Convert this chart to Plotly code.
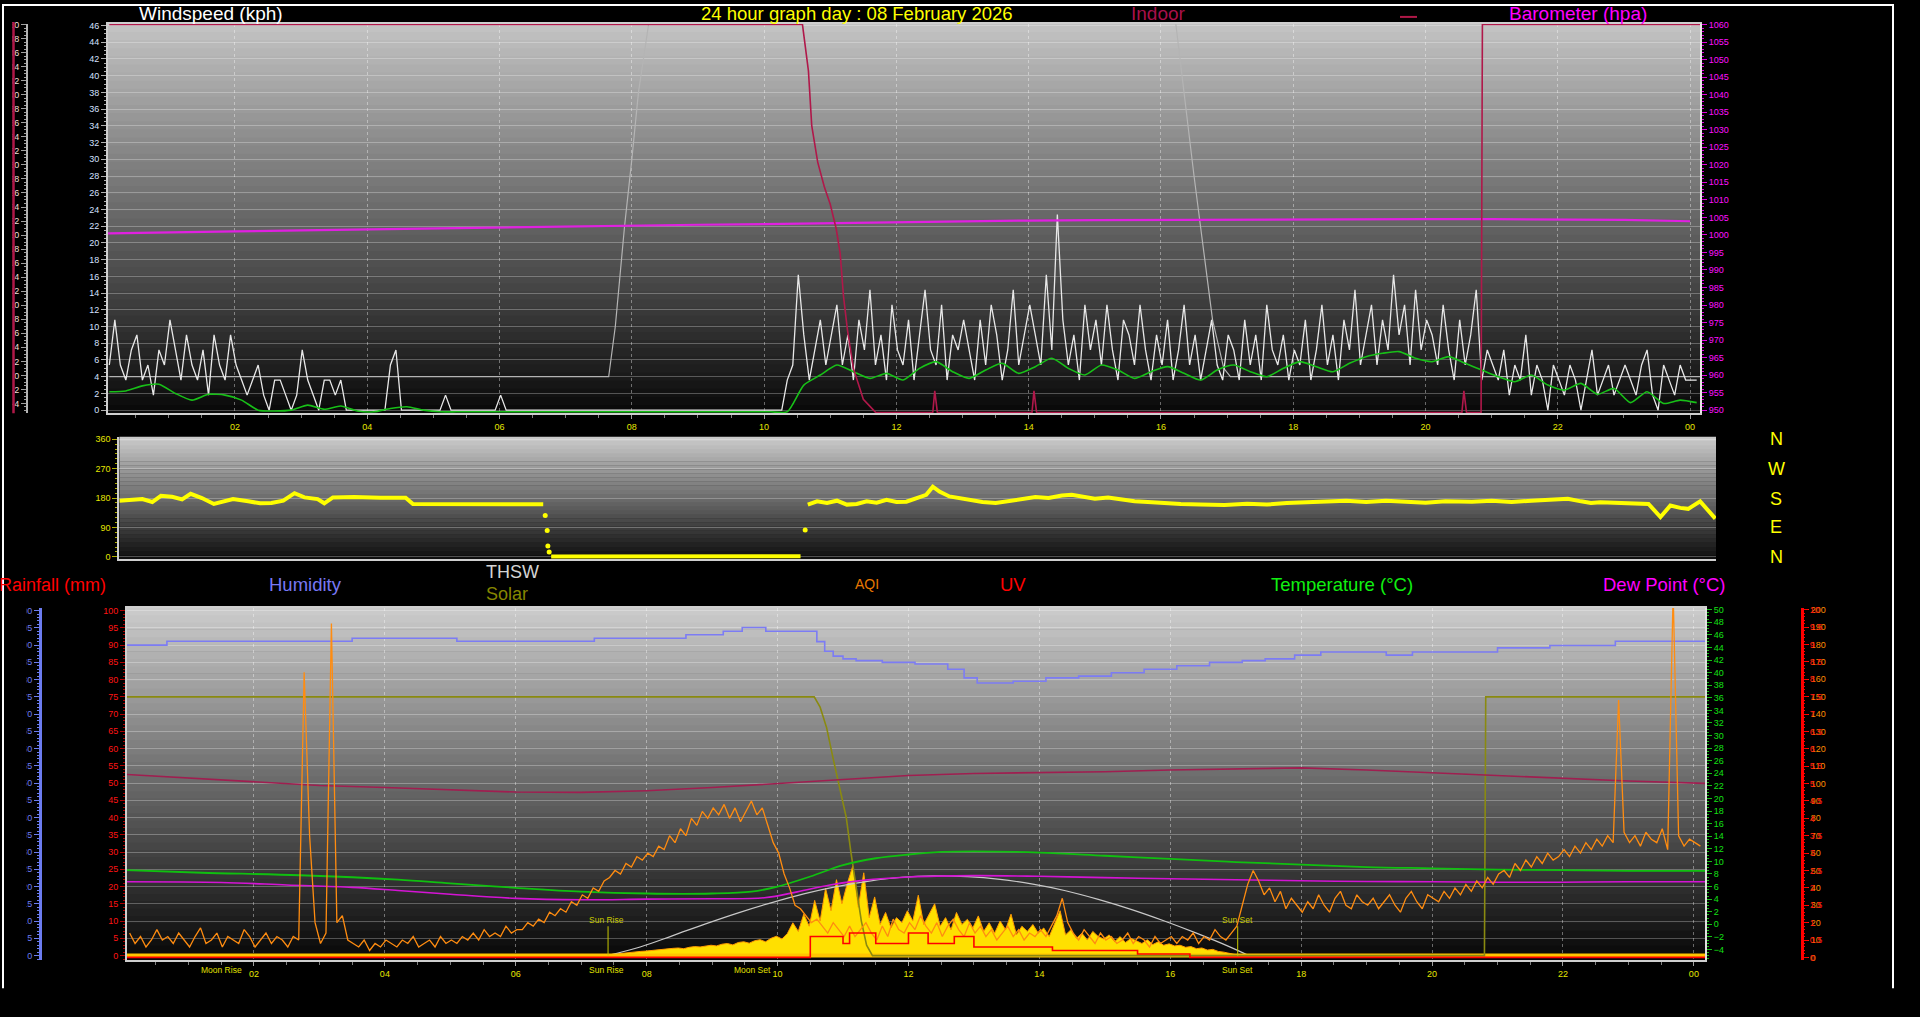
import plotly.graph_objects as go

W, H = 1920, 1017
def fx(px): return px / W
def fy(py): return 1 - py / H

# ---------------- DATA ----------------
hour_ticks = [2, 4, 6, 8, 10, 12, 14, 16, 18, 20, 22, 24]
hour_labels = ["02", "04", "06", "08", "10", "12", "14", "16", "18", "20", "22", "00"]

# --- top panel: wind gust (kph), 5-minute samples from 00:06
gust_t0 = 0.1
step_5min = 1 / 12
gust_kph = [
    5.4, 10.8, 5.4, 3.6, 7.2, 9.0, 3.6, 5.4, 1.8, 7.2, 5.4, 10.8,
    7.2, 3.6, 9.0, 5.4, 3.6, 7.2, 1.8, 9.0, 5.4, 3.6, 9.0, 5.4,
    3.6, 1.8, 3.6, 5.4, 1.8, 0.0, 3.6, 3.6, 1.8, 0.0, 1.8, 7.2,
    3.6, 1.8, 0.0, 3.6, 3.6, 1.8, 3.6, 0.0, 0.0, 0.0, 0.0, 0.0,
    0.0, 0.0, 0.0, 5.4, 7.2, 0.0, 0.0, 0.0, 0.0, 0.0, 0.0, 0.0,
    0.0, 1.8, 0.0, 0.0, 0.0, 0.0, 0.0, 0.0, 0.0, 0.0, 0.0, 1.8,
    0.0, 0.0, 0.0, 0.0, 0.0, 0.0, 0.0, 0.0, 0.0, 0.0, 0.0, 0.0,
    0.0, 0.0, 0.0, 0.0, 0.0, 0.0, 0.0, 0.0, 0.0, 0.0, 0.0, 0.0,
    0.0, 0.0, 0.0, 0.0, 0.0, 0.0, 0.0, 0.0, 0.0, 0.0, 0.0, 0.0,
    0.0, 0.0, 0.0, 0.0, 0.0, 0.0, 0.0, 0.0, 0.0, 0.0, 0.0, 0.0,
    0.0, 0.0, 0.0, 3.6, 5.4, 16.2, 9.0, 3.6, 7.2, 10.8, 5.4, 9.0,
    12.6, 5.4, 9.0, 3.6, 10.8, 7.2, 14.4, 5.4, 9.0, 3.6, 12.6, 7.2,
    5.4, 10.8, 3.6, 9.0, 14.4, 7.2, 5.4, 12.6, 3.6, 9.0, 7.2, 10.8,
    7.2, 3.6, 10.8, 5.4, 12.6, 9.0, 3.6, 7.2, 14.4, 5.4, 9.0, 12.6,
    9.0, 5.4, 16.2, 7.2, 23.4, 10.8, 5.4, 9.0, 3.6, 12.6, 7.2, 10.8,
    5.4, 12.6, 7.2, 3.6, 10.8, 9.0, 5.4, 12.6, 7.2, 3.6, 9.0, 5.4,
    10.8, 3.6, 7.2, 12.6, 5.4, 9.0, 3.6, 7.2, 10.8, 5.4, 3.6, 9.0,
    7.2, 3.6, 10.8, 5.4, 9.0, 3.6, 12.6, 7.2, 5.4, 9.0, 3.6, 7.2,
    5.4, 10.8, 3.6, 7.2, 12.6, 5.4, 9.0, 3.6, 10.8, 7.2, 14.4, 5.4,
    9.0, 12.6, 5.4, 10.8, 7.2, 16.2, 9.0, 12.6, 5.4, 14.4, 7.2, 10.8,
    9.0, 5.4, 12.6, 7.2, 3.6, 10.8, 5.4, 9.0, 14.4, 3.6, 7.2, 5.4,
    3.6, 7.2, 1.8, 5.4, 3.6, 9.0, 1.8, 5.4, 3.6, 0.0, 5.4, 3.6,
    1.8, 5.4, 3.6, 0.0, 3.6, 7.2, 1.8, 3.6, 5.4, 1.8, 3.6, 5.4,
    3.6, 1.8, 5.4, 7.2, 1.8, 0.0, 5.4, 3.6, 1.8, 5.4, 3.6, 3.6,
    3.6,
]

# --- top panel: average wind speed (kph), 15-minute samples from 00:06
avg_t0 = 0.1
step_15min = 0.25
avg_kph = [
    2.2, 2.3, 2.9, 3.1, 2.0, 1.2, 1.9, 1.8, 1.2, 0.0, -0.1, 0.0,
    0.6, 0.1, 0.5, -0.1, -0.2, 0.2, 0.4, 0.0,
    -0.2, -0.2, -0.2, -0.2, -0.2, -0.2, -0.2, -0.2, -0.2, -0.2, -0.2,
    -0.2, -0.2, -0.2, -0.2, -0.2, -0.2, -0.2, -0.2, -0.2, -0.2, -0.2,
    3.0, 4.2, 5.4, 4.6, 3.8, 4.4, 3.6, 5.0, 5.8, 4.6, 3.8, 4.8,
    5.6, 4.4, 5.2, 6.2, 5.0, 4.2, 5.4, 4.8, 3.8, 4.6, 5.2, 4.4,
    3.6, 4.8, 5.4, 4.6, 4.0, 5.0, 5.8, 5.2, 4.6, 5.6, 6.4, 6.8,
    7.0, 6.2, 5.8, 6.4, 5.6, 4.8, 4.0, 3.4, 4.2, 3.0, 2.4, 3.2,
    1.9, 2.6, 0.9, 2.2, 0.8, 1.2, 0.9,
]

# --- top panel: barometer (hPa), hourly
baro_hour = list(range(0, 25))
baro_hpa = [1000.4, 1000.6, 1001.0, 1001.3, 1001.6, 1001.8, 1002.0, 1002.3,
            1002.6, 1002.9, 1003.1, 1003.4, 1003.7, 1003.9, 1004.1, 1004.2,
            1004.3, 1004.4, 1004.5, 1004.5, 1004.5, 1004.5, 1004.4, 1004.3,
            1003.9]

# --- top panel: indoor (crimson, own left axis)
indoor_t = [0.1, 10.58, 10.67, 10.72, 10.81, 10.91, 11.0, 11.09, 11.15, 11.2,
            11.26, 11.35, 11.5, 11.69, 12.55, 12.58, 12.62, 14.05, 14.08, 14.12,
            20.55, 20.58, 20.62, 20.84, 20.86, 24.15]
indoor_v = [50, 50, 43.4, 35.6, 30.4, 26.9, 24.4, 20.9, 17.4, 11.3,
            6.5, 1.0, -3.4, -5.3, -5.3, -2.2, -5.3, -5.3, -2.2, -5.3,
            -5.3, -2.2, -5.3, -5.3, 50, 50]

# --- top panel: THSW (grey, on wind-speed scale, off-scale when high)
thsw_t = [0.1, 7.65, 7.75, 7.89, 8.0, 8.1, 8.26, 8.4, 16.1, 16.22, 16.5, 16.78, 16.95, 17.05, 24.15]
thsw_v = [4.0, 4.0, 10.0, 22.0, 30.0, 38.0, 46.5, 55.0, 55.0, 46.5, 28.0, 10.8, 5.0, 4.0, 4.0]

# --- middle panel: wind direction (degrees)
dir_t = [0.25, 0.45, 0.6, 0.75, 0.88, 1.05, 1.2, 1.33, 1.5, 1.68, 1.85, 1.97,
         2.2, 2.38, 2.55, 2.73, 2.9, 3.05, 3.25, 3.35, 3.48, 3.8, 4.2, 4.58,
         4.69, 5.5, 6.2, 6.66, None,
         6.78, 7.5, 8.5, 9.5, 10.55, None,
         10.66, 10.8, 10.95, 11.1, 11.25, 11.4, 11.55, 11.7, 11.85, 12.0, 12.15,
         12.3, 12.45, 12.55, 12.65, 12.8, 12.95, 13.1, 13.3, 13.5, 13.7, 13.9,
         14.1, 14.3, 14.5, 14.65, 14.8, 15.0, 15.2, 15.4, 15.6, 15.8, 16.0,
         16.3, 16.6, 16.96, 17.3, 17.6, 17.9, 18.2, 18.5, 18.8, 19.1, 19.4,
         19.7, 20.0, 20.3, 20.7, 21.0, 21.3, 21.6, 21.9, 22.15, 22.35, 22.5,
         22.64, 23.0, 23.37, 23.55, 23.7, 23.85, 23.97, 24.15, 24.38]
dir_deg = [172, 175, 177, 168, 187, 184, 176, 193, 180, 162, 170, 177,
           170, 164, 165, 172, 195, 182, 177, 164, 182, 183, 181, 181,
           162, 161, 161, 161, None,
           1, 1, 1, 1, 2, None,
           160, 170, 165, 172, 160, 162, 170, 166, 175, 168, 169,
           178, 190, 215, 200, 185, 180, 175, 168, 165, 172, 178,
           183, 180, 188, 190, 185, 178, 182, 175, 170, 168, 165,
           162, 160, 159, 163, 160, 165, 168, 170, 172, 168, 172,
           169, 166, 170, 169, 172, 168, 172, 175, 178, 170, 165,
           167, 165, 162, 122, 157, 150, 147, 170, 117]
dir_dot_t = [6.69, 6.72, 6.73, 6.75, 10.62]
dir_dot_deg = [127, 81, 33, 15, 82]

# --- bottom panel
humid_t = [0.06, 0.67, 3.5, 5.1, 7.2, 8.6, 9.17, 9.46, 9.82, 10.6, 10.72, 10.85,
           11.0, 11.2, 11.6, 12.1, 12.6, 12.85, 13.05, 13.6, 14.1, 14.6, 15.1,
           15.6, 16.1, 16.6, 17.1, 17.45, 17.9, 18.3, 19.3, 19.7, 21.0, 21.8,
           22.8, 24.17]
humid_pct = [90.0, 91.1, 92.0, 91.1, 92.0, 93.0, 94.0, 95.1, 94.0, 91.0, 88.2, 86.8,
             86.0, 85.5, 85.0, 84.5, 83.0, 80.5, 79.0, 79.5, 80.5, 81.0, 82.0,
             83.0, 84.0, 85.0, 85.5, 86.0, 87.1, 88.0, 87.1, 88.0, 89.2, 89.9,
             91.1, 91.1]

olive_t = [0.06, 10.56, 10.65, 10.75, 10.85, 10.95, 11.05, 11.12, 11.2, 11.28,
           11.36, 11.45, 20.8, 20.82, 24.17]
olive_v = [75, 75, 72, 66, 57, 48, 40, 30, 20, 10, 3, 0, 0, 75, 75]

indoor2_t = [0.06, 1.0, 2.0, 3.0, 4.0, 5.0, 6.0, 7.0, 8.0, 9.0, 10.0, 11.0, 12.0,
             13.0, 14.0, 15.0, 16.0, 17.0, 18.0, 19.0, 20.0, 21.0, 22.0, 23.0, 24.17]
indoor2_v = [52.5, 51.5, 50.3, 49.3, 48.7, 48.0, 47.4, 47.3, 47.8, 48.7, 49.8, 51.0,
             52.2, 52.8, 53.0, 53.3, 53.8, 54.2, 54.4, 53.8, 53.0, 52.0, 51.2, 50.6, 49.9]

temp_t = [0.06, 1.2, 2.7, 4.2, 5.0, 6.0, 7.0, 8.0, 9.0, 9.6, 10.0, 10.5, 11.0,
          11.5, 12.0, 12.5, 13.0, 14.0, 15.0, 16.0, 17.0, 18.0, 19.0, 20.0,
          21.0, 22.0, 23.0, 24.17]
temp_c = [8.6, 8.2, 7.8, 7.1, 6.5, 5.8, 5.2, 4.9, 4.9, 5.2, 6.0, 7.6, 9.4,
          10.5, 11.1, 11.5, 11.6, 11.4, 10.9, 10.4, 9.9, 9.5, 9.1, 8.9,
          8.7, 8.6, 8.5, 8.5]

dew_t = [0.06, 1.5, 2.5, 3.5, 4.2, 5.0, 6.0, 7.0, 8.0, 9.0, 9.8, 10.3, 10.8,
         11.3, 12.0, 13.0, 14.0, 15.0, 16.0, 17.0, 18.0, 19.0, 20.0, 21.0,
         22.0, 23.0, 24.17]
dew_c = [6.76, 6.65, 6.26, 5.88, 5.38, 4.78, 4.12, 3.9, 4.0, 4.07, 4.23, 5.16, 6.26,
         6.98, 7.52, 7.74, 7.63, 7.42, 7.25, 7.09, 6.92, 6.81, 6.76, 6.7,
         6.7, 6.76, 6.76]

aqi_t0 = 0.1
aqi = [
    14, 8, 12, 6, 10, 16, 10, 12, 8, 14, 10, 6,
    12, 17, 8, 10, 14, 6, 12, 10, 8, 16, 12, 6,
    10, 14, 8, 12, 10, 6, 12, 10, 164, 70, 20, 8,
    14, 192, 20, 24, 10, 8, 6, 10, 4, 8, 6, 10,
    8, 6, 10, 8, 12, 6, 8, 10, 6, 12, 8, 10,
    8, 12, 10, 14, 10, 16, 12, 14, 12, 18, 14, 16,
    16, 20, 18, 22, 20, 26, 24, 28, 26, 32, 30, 36,
    34, 40, 38, 44, 46, 50, 48, 54, 52, 58, 56, 60,
    58, 64, 62, 70, 66, 74, 70, 80, 76, 84, 80, 86,
    82, 88, 80, 86, 78, 84, 90, 82, 86, 76, 66, 60,
    48, 40, 30, 28, 24, 20, 22, 18, 14, 20, 16, 12,
    18, 12, 16, 20, 14, 10, 18, 12, 22, 16, 14, 20,
    16, 24, 18, 14, 20, 12, 18, 22, 16, 12, 20, 14,
    18, 12, 16, 10, 14, 18, 12, 16, 10, 14, 12, 16,
    12, 18, 24, 34, 20, 14, 10, 16, 12, 8, 14, 10,
    12, 8, 10, 14, 8, 12, 10, 6, 12, 8, 10, 12,
    8, 12, 10, 14, 8, 12, 10, 16, 12, 10, 14, 18,
    30, 42, 50, 44, 36, 40, 32, 38, 28, 34, 30, 26,
    32, 28, 36, 30, 26, 34, 38, 30, 28, 36, 32, 30,
    34, 28, 32, 36, 30, 26, 34, 38, 32, 28, 36, 34,
    32, 38, 34, 40, 36, 42, 38, 44, 40, 46, 42, 48,
    50, 46, 54, 50, 56, 52, 58, 54, 60, 56, 58, 62,
    58, 64, 60, 66, 62, 68, 64, 70, 66, 148, 72, 66,
    70, 64, 72, 68, 66, 74, 62, 210, 70, 64, 68, 66,
    64,
]

solar_t0 = 7.4
solar = [
    0.2, 0.4, 0.6, 0.7, 0.9, 1.0, 1.2,
    1.3, 1.5, 1.6, 1.8, 1.9, 2.1, 2.2, 2.0, 2.4, 2.6, 2.5, 2.8,
    3.0, 2.8, 3.3, 3.5, 3.1, 3.8, 4.0, 3.6, 4.3, 4.6, 4.0, 5.0,
    5.6, 4.8, 6.4, 9.5, 7.0, 12.0, 8.5, 16.0, 10.0, 19.5, 13.0, 22.0,
    15.0, 21.0, 26.0, 14.0, 24.0, 11.0, 17.0, 9.0, 12.5, 8.0, 11.0, 9.5,
    13.0, 10.0, 17.5, 9.0, 12.0, 15.0, 8.5, 11.0, 7.5, 12.5, 9.0, 10.5,
    8.0, 11.5, 7.0, 9.5, 6.5, 10.0, 7.5, 12.0, 6.0, 8.5, 7.0, 9.0,
    6.5, 8.0, 5.5, 9.5, 13.0, 6.0, 7.5, 5.0, 6.5, 4.5, 7.0, 5.5,
    4.8, 6.0, 4.0, 5.5, 3.8, 5.0, 4.2, 3.5, 4.6, 3.2, 4.0, 3.0,
    3.4, 2.8, 3.0, 2.4, 2.6, 2.0, 2.2, 1.6, 1.8, 1.2, 1.0, 0.6,
    0.3, 0.0,
]

clear_sky_t = [7.4, 7.9, 8.4, 8.9, 9.4, 9.9, 10.4, 10.9, 11.4, 11.9, 12.4, 12.9,
               13.4, 13.9, 14.4, 14.9, 15.4, 15.9, 16.4, 16.9, 17.2]
clear_sky_v = [0, 2.5, 5.8, 9.2, 12.4, 15.3, 17.9, 20.0, 21.6, 22.7, 23.1, 22.9,
               22.1, 20.7, 18.8, 16.3, 13.4, 10.1, 6.5, 2.6, 0]

uv_t = [0.06, 10.5, 11.0, 11.1, 11.5, 12.0, 12.3, 12.7, 13.0, 14.2, 15.5, 16.3, 24.17]
uv_idx = [0.0, 0.6, 0.4, 0.7, 0.4, 0.7, 0.4, 0.6, 0.3, 0.2, 0.1, 0.0, 0.0]

rain_t = [0.06, 24.17]
rain_mm = [0.0, 0.0]

# ---------------- FIGURE ----------------
fig = go.Figure()

def series_t(t0, step, n):
    return [t0 + i * step for i in range(n)]

# top panel traces
fig.add_trace(go.Scatter(x=thsw_t, y=thsw_v, mode="lines", line=dict(color="#b4b4b4", width=1.2),
                         xaxis="x", yaxis="y", name="THSW"))
fig.add_trace(go.Scatter(x=baro_hour, y=baro_hpa, mode="lines", line=dict(color="#e020e0", width=2.2),
                         xaxis="x", yaxis="y2", name="Barometer"))
fig.add_trace(go.Scatter(x=indoor_t, y=indoor_v, mode="lines", line=dict(color="#b0184a", width=1.6),
                         xaxis="x", yaxis="y3", name="Indoor"))
fig.add_trace(go.Scatter(x=series_t(gust_t0, step_5min, len(gust_kph)), y=gust_kph, mode="lines",
                         line=dict(color="#e8e8e8", width=1.3), xaxis="x", yaxis="y", name="Gust"))
fig.add_trace(go.Scatter(x=series_t(avg_t0, step_15min, len(avg_kph)), y=avg_kph, mode="lines",
                         line=dict(color="#18c018", width=1.6, shape="spline", smoothing=0.6),
                         xaxis="x", yaxis="y", name="Wind"))

# middle panel traces
fig.add_trace(go.Scatter(x=dir_t, y=dir_deg, mode="lines", line=dict(color="#ffff00", width=4),
                         connectgaps=False, xaxis="x2", yaxis="y4", name="Direction"))
fig.add_trace(go.Scatter(x=dir_dot_t, y=dir_dot_deg, mode="markers",
                         marker=dict(color="#ffff00", size=5), xaxis="x2", yaxis="y4", name="Direction dots"))

# bottom panel traces
fig.add_trace(go.Scatter(x=series_t(solar_t0, step_5min, len(solar)), y=solar, mode="lines",
                         fill="tozeroy", fillcolor="#ffe000", line=dict(color="#ff9a00", width=1),
                         xaxis="x3", yaxis="y5", name="Solar"))
fig.add_trace(go.Scatter(x=clear_sky_t, y=clear_sky_v, mode="lines",
                         line=dict(color="#c8c8c8", width=1.2, shape="spline"),
                         xaxis="x3", yaxis="y5", name="Solar max"))
fig.add_trace(go.Scatter(x=uv_t, y=uv_idx, mode="lines", line=dict(color="#ff0000", width=1.6, shape="hv"),
                         xaxis="x3", yaxis="y9", name="UV"))
fig.add_trace(go.Scatter(x=rain_t, y=rain_mm, mode="lines", line=dict(color="#ffc400", width=4),
                         xaxis="x3", yaxis="y5", name="Rain"))
fig.add_trace(go.Scatter(x=olive_t, y=olive_v, mode="lines", line=dict(color="#8a8a10", width=1.6),
                         xaxis="x3", yaxis="y5", name="Solar line"))
fig.add_trace(go.Scatter(x=indoor2_t, y=indoor2_v, mode="lines", line=dict(color="#a01e50", width=1.6),
                         xaxis="x3", yaxis="y5", name="Indoor hum"))
fig.add_trace(go.Scatter(x=humid_t, y=humid_pct, mode="lines", line=dict(color="#7c7cf4", width=1.6, shape="hv"),
                         xaxis="x3", yaxis="y6", name="Humidity"))
fig.add_trace(go.Scatter(x=temp_t, y=temp_c, mode="lines", line=dict(color="#10c010", width=1.8, shape="spline"),
                         xaxis="x3", yaxis="y7", name="Temperature"))
fig.add_trace(go.Scatter(x=dew_t, y=dew_c, mode="lines", line=dict(color="#d414d4", width=1.6, shape="spline"),
                         xaxis="x3", yaxis="y7", name="Dew point"))
fig.add_trace(go.Scatter(x=series_t(aqi_t0, step_5min, len(aqi)), y=aqi, mode="lines",
                         line=dict(color="#ff8c10", width=1.3), xaxis="x3", yaxis="y8", name="AQI"))

# ---------------- AXES ----------------
TF = "Liberation Sans"
GRID = "rgba(255,255,255,0.28)"
VGRID = "rgba(255,255,255,0.38)"

def xaxis_cfg(dom, rng, anchor, labels=True):
    return dict(domain=dom, range=rng, anchor=anchor, tickmode="array", tickvals=hour_ticks,
                ticktext=hour_labels, showticklabels=labels,
                tickfont=dict(family=TF, size=9, color="#e6e600"),
                ticks="outside" if labels else "", ticklen=4, tickcolor="#a0a0a0",
                minor=dict(dtick=0.5, ticks="outside" if labels else "", ticklen=3, tickcolor="#808080"),
                showgrid=labels, gridcolor=VGRID, griddash="dot", gridwidth=1,
                showline=True, linecolor="#cfcfcf", linewidth=2, mirror=labels,
                zeroline=False, fixedrange=True)

def yaxis_cfg(dom, rng, anchor, dtick, tick0, color, tickcolor, side="left",
              grid=False, overlay=None, position=None, linecolor="#cfcfcf", linewidth=2,
              minor_dtick=None, showline=True, mirror=False):
    d = dict(range=rng, side=side, dtick=dtick, tick0=tick0,
             tickfont=dict(family=TF, size=9, color=color), ticks="outside", ticklen=5,
             tickcolor=tickcolor, showgrid=grid, gridcolor=GRID, gridwidth=1,
             showline=showline, linecolor=linecolor, linewidth=linewidth, mirror=mirror,
             zeroline=False, fixedrange=True)
    if minor_dtick:
        d["minor"] = dict(dtick=minor_dtick, ticks="outside", ticklen=2, tickcolor=tickcolor)
    if overlay:
        d["overlaying"] = overlay
    else:
        d["domain"] = dom
    if position is not None:
        d["anchor"] = "free"
        d["position"] = position
    else:
        d["anchor"] = anchor
    return d

top_x = [fx(108), fx(1700)]
top_y = [fy(412), fy(20)]
mid_x = [fx(119.4), fx(1716)]
mid_y = [fy(559), fy(436)]
bot_x = [fx(127), fx(1705)]
bot_y = [fy(962.7), fy(608)]

layout = dict(
    width=W, height=H, margin=dict(l=0, r=0, t=0, b=0),
    paper_bgcolor="#000000", plot_bgcolor="#000000", showlegend=False,
    xaxis=xaxis_cfg(top_x, [0.08, 24.15], "y"),
    xaxis2=xaxis_cfg(mid_x, [0.2525, 24.39], "y4", labels=False),
    xaxis3=xaxis_cfg(bot_x, [0.06, 24.17], "y5"),
    yaxis=yaxis_cfg(top_y, [-0.36, 46.2], "x", 2, 0, "#d4e0ff", "#b0b0b0", grid=True,
                    minor_dtick=0.5, mirror=True),
    yaxis2=yaxis_cfg(None, [949.15, 1060.2], "x", 5, 950, "#ff10ff", "#e000e0", side="right",
                     overlay="y", minor_dtick=1, linecolor="#e8e8e8"),
    yaxis3=yaxis_cfg(None, [-5.38, 50.1], None, 2, 0, "#f0dcdc", "#a0a0a0", side="left",
                     overlay="y", position=fx(27), minor_dtick=0.5, linecolor="#b4b4b4"),
    yaxis4=yaxis_cfg(mid_y, [-7, 367], "x2", 90, 0, "#e6e600", "#b0b000", grid=True,
                     minor_dtick=15),
    yaxis5=yaxis_cfg(bot_y, [-1.3, 100.8], "x3", 5, 0, "#ff1414", "#b00000", grid=True,
                     minor_dtick=1, mirror=True),
    yaxis6=yaxis_cfg(None, [-1.3, 100.8], None, 5, 0, "#6c7cf0", "#6c7cf0", side="left",
                     overlay="y5", position=fx(40), minor_dtick=1, linecolor="#6c7cf0", linewidth=3),
    yaxis7=yaxis_cfg(None, [-5.68, 50.3], "x3", 2, 0, "#14e014", "#14c014", side="right",
                     overlay="y5", minor_dtick=0.5, linecolor="#e0e0e0"),
    yaxis8=yaxis_cfg(None, [-1.54, 201.1], None, 10, 0, "#ff8c00", "#ff2000", side="right",
                     overlay="y5", position=fx(1802), linecolor="#ff0000", linewidth=3),
    yaxis9=yaxis_cfg(None, [-0.077, 10.057], None, 0.5, 0, "#ff1010", "#ff0000", side="right",
                     overlay="y5", position=fx(1802), minor_dtick=0.1, showline=False),
)
fig.update_layout(**layout)

# ---------------- BACKGROUND GRADIENTS ----------------
shapes = []
def gradient(xd, yd, top, bottom, n=48):
    for i in range(n):
        f = (i + 0.5) / n
        c = [int(round(bottom[k] + (top[k] - bottom[k]) * f)) for k in range(3)]
        shapes.append(dict(type="rect", xref=xd, yref=yd, x0=0, x1=1, y0=i / n, y1=(i + 1) / n + 0.002,
                           fillcolor="rgb(%d,%d,%d)" % tuple(c), line=dict(width=0), layer="below"))

gradient("x domain", "y domain", (196, 196, 196), (8, 8, 8))
gradient("x2 domain", "y4 domain", (204, 204, 204), (12, 12, 12), n=30)
gradient("x3 domain", "y5 domain", (204, 204, 204), (6, 6, 6))

# border (left, top, right)
shapes.append(dict(type="path", xref="paper", yref="paper",
                   path="M %f %f L %f %f L %f %f L %f %f" % (fx(3), fy(991), fx(3), fy(1), fx(1893), fy(1), fx(1893), fy(991)),
                   line=dict(color="#ffffff", width=2), layer="above"))
# clipping of outer-left axis labels
shapes.append(dict(type="rect", xref="paper", yref="paper", x0=fx(4.5), x1=fx(12.5), y0=fy(416), y1=fy(14),
                   fillcolor="#000000", line=dict(width=0), layer="above"))
shapes.append(dict(type="line", xref="paper", yref="paper", x0=fx(13.5), x1=fx(13.5), y0=fy(412), y1=fy(18),
                   line=dict(color="#b01848", width=2.5), layer="above"))
shapes.append(dict(type="rect", xref="paper", yref="paper", x0=fx(4.5), x1=fx(26.5), y0=fy(968), y1=fy(603),
                   fillcolor="#000000", line=dict(width=0), layer="above"))
# indoor legend dash
shapes.append(dict(type="line", xref="paper", yref="paper", x0=fx(1400), x1=fx(1417), y0=fy(13), y1=fy(13),
                   line=dict(color="#b01848", width=2), layer="above"))
# sunrise / sunset markers
for t in (7.41, 17.03):
    shapes.append(dict(type="line", xref="x3", yref="y5", x0=t, x1=t, y0=0, y1=8.5,
                       line=dict(color="#c8c800", width=1), layer="above"))
fig.update_layout(shapes=shapes)

# ---------------- TEXT ----------------
ann = []
def txt(text, x, y, color, size, xanchor="center", xref="paper", yref="paper", yv=None):
    ann.append(dict(text=text, x=x, y=(fy(y) if yv is None else yv), xref=xref, yref=yref,
                    xanchor=xanchor, yanchor="middle", showarrow=False,
                    font=dict(family=TF, size=size, color=color)))

txt("Windspeed (kph)", fx(211), 10, "#ffffff", 19)
txt("24 hour graph day : 08 February 2026", fx(857), 10, "#ffff00", 18.5)
txt("Indoor", fx(1158), 10, "#a8104a", 19)
txt("Barometer (hpa)", fx(1578), 10, "#ff00ff", 19)

txt("Rainfall (mm)", fx(108), 585, "#ff0000", 18, xanchor="right")
txt("Humidity", fx(305), 585, "#7878f4", 18.5)
txt("THSW", fx(484), 572, "#d4d4d4", 18, xanchor="left")
txt("Solar", fx(484), 594, "#868600", 18, xanchor="left")
txt("AQI", fx(867), 584, "#e87800", 14)
txt("UV", fx(1013), 585, "#ff0000", 18.5)
txt("Temperature (°C)", fx(1342), 585, "#10f010", 18.5)
txt("Dew Point (°C)", fx(1664), 585, "#ff00ff", 18.5)

for letter, yy in zip(["N", "W", "S", "E", "N"], [438, 468, 498, 527, 557]):
    txt(letter, fx(1776), yy, "#ffff00", 18)

for label, t in [("Moon Rise", 1.5), ("Sun Rise", 7.38), ("Moon Set", 9.61), ("Sun Set", 17.03)]:
    txt(label, t, 973, "#e0e000", 8.5, xref="x3")
for label, t in [("Sun Rise", 7.38), ("Sun Set", 17.03)]:
    txt(label, t, 0, "#c8c800", 8.5, xref="x3", yref="y5", yv=10.3)

fig.update_layout(annotations=ann)

fig.write_html("out.html", config={"displayModeBar": False},
               post_script="document.body.style.margin='0';document.body.style.overflow='hidden';")
